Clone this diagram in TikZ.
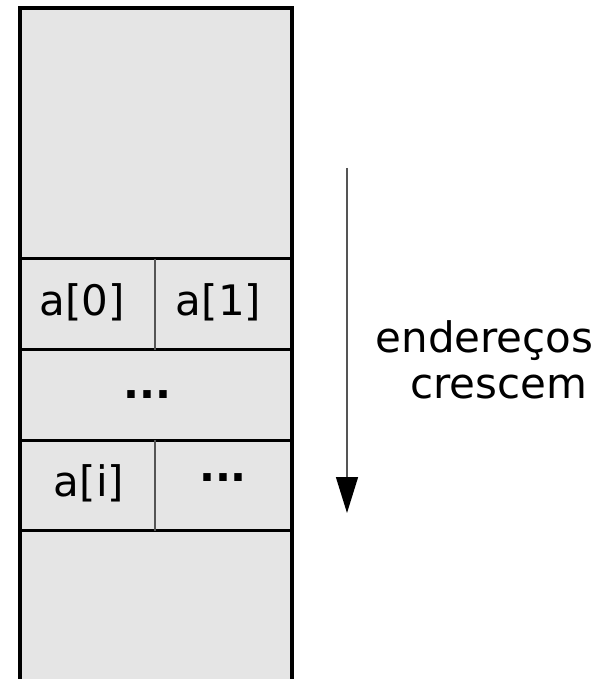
\documentclass[tikz,border=0pt]{standalone}
\usepackage{fontspec}
\setmainfont{DejaVu Sans}
\usetikzlibrary{arrows.meta}
\definecolor{cellfill}{HTML}{E5E5E5}
\definecolor{thinline}{HTML}{555555}
\begin{document}
\begin{tikzpicture}[x=1pt,y=-1pt,
  txt/.style={font=\fontsize{42}{46}\selectfont, inner sep=0pt, anchor=base},
  dotstxt/.style={font=\fontsize{42}{46}\selectfont\bfseries, inner sep=0pt, anchor=base},
  rowsep/.style={line width=3pt},
  cellsep/.style={line width=1.5pt, draw=thinline},
  outer/.style={line width=4.5pt}]
\useasboundingbox (0,0) rectangle (606,679);
\clip (0,0) rectangle (606,679);
% memory block
\fill[cellfill] (20,8) rectangle (292,700);
\draw[rowsep] (20,258.5) -- (292,258.5);
\draw[rowsep] (20,349.5) -- (292,349.5);
\draw[rowsep] (20,440) -- (292,440);
\draw[rowsep] (20,530.5) -- (292,530.5);
\draw[cellsep] (155,258.5) -- (155,349.5);
\draw[cellsep] (155,440) -- (155,530.5);
\draw[outer] (20,700) -- (20,8) -- (292,8) -- (292,700);
% cell texts
\node[txt] (a0) at (82,315) {a[0]};
\node[txt] (a1) at (218.5,315) {a[1]};
\node[dotstxt] (mid) at (147.5,398) {...};
\node[txt] (ai) at (89,496) {a[i]};
\node[dotstxt] (rest) at (223,481) {...};
% arrow
\coordinate (arrTop) at (347,168);
\coordinate (arrTip) at (347,513);
\draw[line width=1.5pt, draw=thinline, -{Triangle[width=22pt,length=36pt,color=black]}] (arrTop) -- (arrTip);
% label
\node[txt] (lbl1) at (484.5,352) {endereços};
\node[txt] (lbl2) at (498.5,398) {crescem};
\end{tikzpicture}
\end{document}
